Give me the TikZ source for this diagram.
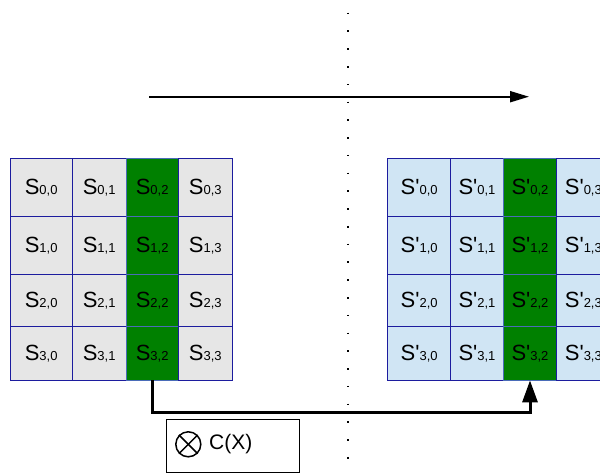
\documentclass[tikz,border=0pt]{standalone}
\usepackage{fontspec}
\setmainfont{Liberation Sans}
\usetikzlibrary{arrows.meta,calc}

\definecolor{cellgrey}{HTML}{E6E6E6}
\definecolor{cellblue}{HTML}{D0E5F4}
\definecolor{gridline}{HTML}{1C1C9E}
\definecolor{colgreen}{HTML}{008000}
\definecolor{colline}{HTML}{4A6CB8}

% cell label: big letter with a small index
\newcommand{\cellname}[2]{{\fontsize{22}{22}\selectfont #1}{\fontsize{13}{13}\selectfont #2}}

\tikzset{
  cellbox/.style={rectangle, draw=gridline, line width=0.8pt, inner sep=0pt, text=black},
  plaincell/.style={cellbox, fill=cellgrey},
  outcell/.style={cellbox, fill=cellblue},
  hotcell/.style={cellbox, fill=colgreen, draw=colline},
  flow/.style={line width=2pt, -{Triangle[length=19pt,width=11pt]}},
  mixflow/.style={line width=3pt, -{Triangle[length=22pt,width=15pt]}},
  divider/.style={line width=1.6pt, dash pattern=on 1.6pt off 16.17pt},
  legendbox/.style={rectangle, draw=black, line width=0.9pt, inner sep=0pt,
    minimum width=132.6pt, minimum height=52.7pt},
}

\begin{document}
\begin{tikzpicture}[x=1pt, y=-1pt]
\useasboundingbox (0,0) rectangle (600,473);
\clip (0,0) rectangle (600,473);

% dotted vertical divider
\coordinate (divtop) at (347.7,12.7);
\coordinate (divbot) at (347.7,460);
\draw[divider] (divtop) -- (divbot);

% horizontal arrow on top
\coordinate (flowstart) at (149,96.7);
\coordinate (flowend) at (529,96.7);
\draw[flow] (flowstart) -- (flowend);

% the two 4x4 state grids
\foreach \r/\ya/\yb in {0/158.3/216.7, 1/216.7/274, 2/274/326.7, 3/326.7/380}{
  \foreach \c/\xa/\xb in {0/10/72.3, 1/72.3/126, 2/126/178.3, 3/178.3/232.3}{
    \pgfmathsetmacro{\w}{\xb-\xa}
    \pgfmathsetmacro{\h}{\yb-\ya}
    \pgfmathsetmacro{\cx}{(\xa+\xb)/2}
    \pgfmathsetmacro{\cy}{(\ya+\yb)/2}
    \ifnum\c=2
      \node[hotcell, minimum width=\w pt, minimum height=\h pt] (L-\r-\c) at (\cx,\cy) {\cellname{S}{\r,\c}};
    \else
      \node[plaincell, minimum width=\w pt, minimum height=\h pt] (L-\r-\c) at (\cx,\cy) {\cellname{S}{\r,\c}};
    \fi
  }
  \foreach \c/\xa/\xb in {0/387.7/450.7, 1/450.7/503.3, 2/503.3/556.7, 3/556.7/610}{
    \pgfmathsetmacro{\w}{\xb-\xa}
    \pgfmathsetmacro{\h}{\yb-\ya}
    \pgfmathsetmacro{\cx}{(\xa+\xb)/2}
    \pgfmathsetmacro{\cy}{(\ya+\yb)/2}
    \ifnum\c=2
      \node[hotcell, minimum width=\w pt, minimum height=\h pt] (R-\r-\c) at (\cx,\cy) {\cellname{S\textquotesingle}{\r,\c}};
    \else
      \node[outcell, minimum width=\w pt, minimum height=\h pt] (R-\r-\c) at (\cx,\cy) {\cellname{S\textquotesingle}{\r,\c}};
    \fi
  }
}

% column mixing path
\draw[mixflow] (L-3-2.south) -- ++(0,31.7) -| (R-3-2.south);

% legend
\node[legendbox] (legend) at (233,445.7) {};
\node[circle, draw=black, line width=1.5pt, minimum size=25pt, inner sep=0pt] (otimes) at (188.3,444.3) {};
\draw[line width=1.5pt] (otimes.north west) -- (otimes.south east);
\draw[line width=1.5pt] (otimes.north east) -- (otimes.south west);
\node[anchor=west, inner sep=0pt, font=\fontsize{21}{21}\selectfont] (cx) at (209,444.3) {C(X)};
\end{tikzpicture}
\end{document}
